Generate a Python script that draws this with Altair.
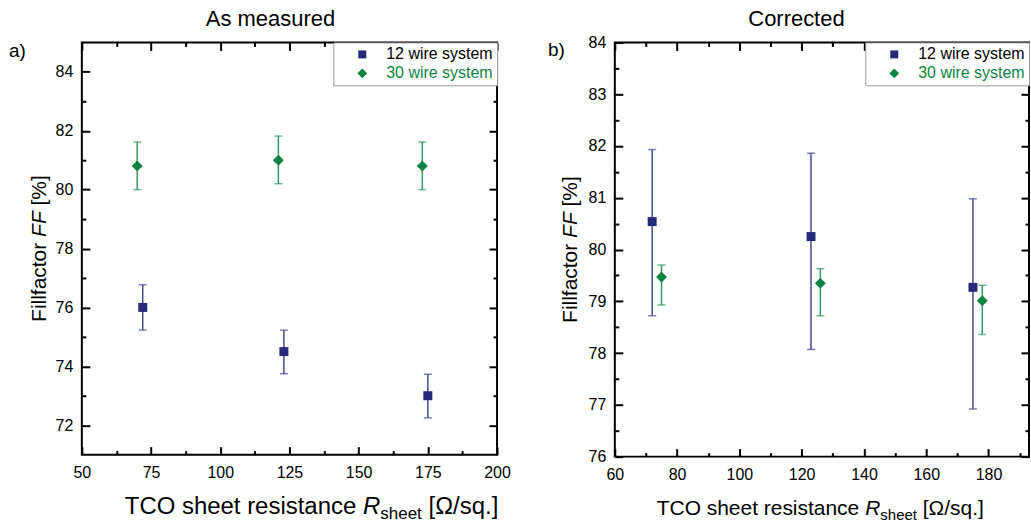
import altair as alt
import pandas as pd

FONT = "Liberation Sans"
NAVY = "#262a78"
GREEN = "#0b8442"
NAVY_BAR = "#474b8f"
GREEN_BAR = "#319b5e"
TICK = "black"
DIAMOND = "M-1.22,0L0,-1.22L1.22,0L0,1.22Z"

SERIES = ["12 wire system", "30 wire system"]

# ---- panel a) As measured ----
A_R12 = [72, 123, 175]
A_FF12 = [76.0, 74.5, 73.0]
A_LO12 = [75.23, 73.75, 72.25]
A_HI12 = [76.77, 75.23, 73.73]
A_R30 = [70, 121, 173]
A_FF30 = [80.8, 81.0, 80.8]
A_LO30 = [80.0, 80.2, 80.0]
A_HI30 = [81.62, 81.82, 81.62]

# ---- panel b) Corrected ----
B_R12 = [72, 123, 175]
B_FF12 = [80.54, 80.25, 79.27]
B_LO12 = [78.72, 78.07, 76.92]
B_HI12 = [81.93, 81.86, 80.98]
B_R30 = [75, 126, 178]
B_FF30 = [79.47, 79.35, 79.01]
B_LO30 = [78.93, 78.72, 78.36]
B_HI30 = [79.70, 79.63, 79.31]

# ---- ticks ----
A_XMAJ = [50, 75, 100, 125, 150, 175, 200]
A_XMIN = [62.5, 87.5, 112.5, 137.5, 162.5, 187.5]
A_YMAJ = [72, 74, 76, 78, 80, 82, 84]
A_YMIN = [73, 75, 77, 79, 81, 83]
B_XMAJ = [60, 80, 100, 120, 140, 160, 180]
B_XMIN = [70, 90, 110, 130, 150, 170, 190]
B_YMAJ = [76, 77, 78, 79, 80, 81, 82, 83, 84]
B_YMIN = [76.5, 77.5, 78.5, 79.5, 80.5, 81.5, 82.5, 83.5]

# approximate Arial advance widths (per 1000 em) for layout of rich titles
CW = {"T": 611, "C": 722, "O": 778, " ": 278, "s": 500, "h": 556, "e": 556,
      "t": 278, "r": 333, "i": 222, "a": 556, "n": 556, "c": 500, "R": 722,
      "[": 278, "Ω": 768, "/": 278, "q": 556, ".": 278, "]": 278, "F": 611,
      "l": 222, "f": 278, "o": 556, "%": 889}


def tw(s, size):
    return sum(CW.get(c, 556) for c in s) * size / 1000.0


ONE = pd.DataFrame({"k": [0]})


def txt(text, x, y, size, align="left", angle=0, style="normal"):
    return alt.Chart(ONE).mark_text(
        text=text, font=FONT, fontSize=size, color="black", align=align,
        baseline="alphabetic", angle=angle, fontStyle=style,
    ).encode(x=alt.value(x), y=alt.value(y))


def xtitle(x0, y, size, sub):
    p1 = "TCO sheet resistance"
    sp = tw(" ", size)
    xr = x0 + tw(p1, size) + sp
    xs = xr + tw("R", size)
    xb = xs + tw("sheet", sub) + sp
    return [
        txt(p1, x0, y, size),
        txt("R", xr, y, size, style="italic"),
        txt("sheet", xs, y + 5, sub),
        txt("[Ω/sq.]", xb, y, size),
    ]


def ytitle(x, ymid, size):
    sp = tw(" ", size)
    total = tw("Fillfactor", size) + sp + tw("FF", size) + sp + tw("[%]", size)
    yb = ymid + total / 2
    y1 = yb - tw("Fillfactor", size) - sp
    y2 = y1 - tw("FF", size) - sp
    return [
        txt("Fillfactor", x, yb, size, angle=270),
        txt("FF", x, y1, size, angle=270, style="italic"),
        txt("[%]", x, y2, size, angle=270),
    ]


def make_df(r12, ff12, lo12, hi12, r30, ff30, lo30, hi30):
    return pd.DataFrame({
        "series": [SERIES[0]] * len(r12) + [SERIES[1]] * len(r30),
        "x": r12 + r30,
        "y": ff12 + ff30,
        "lo": lo12 + lo30,
        "hi": hi12 + hi30,
    })


def legend():
    return alt.Legend(
        title=None, orient="top-right", offset=0, padding=4,
        fillColor="white", strokeColor="#9a9a9a",
        symbolOffset=17, labelOffset=16, labelFont=FONT, labelFontSize=16,
        labelColor=alt.ExprRef("datum.value == '30 wire system' ? '%s' : 'black'" % GREEN),
        symbolSize=64, rowPadding=3, symbolStrokeWidth=0,
    )


def panel(df, xdom, ydom, xmaj, xmin, ymaj, ymin, w, h, texts):
    xs = alt.Scale(domain=xdom, nice=False, zero=False)
    ys = alt.Scale(domain=ydom, nice=False, zero=False)
    base = alt.Chart(df)

    def axes_layer(xaxis, yaxis):
        return base.mark_point(opacity=0).encode(
            x=alt.X("x:Q", scale=xs, axis=xaxis),
            y=alt.Y("y:Q", scale=ys, axis=yaxis),
        )

    lab = dict(labelFont=FONT, labelFontSize=16, labelColor="black",
               labelFlush=False, labelOverlap=False, ticks=False,
               domain=False, grid=False, title=None, format="d")

    def tick_axis(orient, vals, size):
        return alt.Axis(orient=orient, values=vals, offset=-size, tickSize=size,
                        tickWidth=2, tickColor=TICK, labels=False,
                        domain=False, grid=False, title=None)

    layers = [
        axes_layer(alt.Axis(orient="bottom", values=xmaj, labelPadding=10, **lab),
                   alt.Axis(orient="left", values=ymaj, labelPadding=9, **lab)),
        axes_layer(tick_axis("bottom", xmaj, 8), tick_axis("left", ymaj, 8)),
        axes_layer(tick_axis("bottom", xmin, 4), tick_axis("left", ymin, 4)),
        axes_layer(tick_axis("top", xmaj, 8), tick_axis("right", ymaj, 8)),
        axes_layer(tick_axis("top", xmin, 4), tick_axis("right", ymin, 4)),
    ]
    for s, col in [(SERIES[0], NAVY_BAR), (SERIES[1], GREEN_BAR)]:
        layers.append(
            base.transform_filter(alt.datum.series == s)
            .mark_errorbar(ticks=True, size=8, thickness=1.5, color=col)
            .encode(
                x=alt.X("x:Q", scale=xs, axis=None),
                y=alt.Y("lo:Q", scale=ys, axis=None),
                y2="hi:Q",
            )
        )
    layers.append(
        base.mark_point(filled=True, size=81, opacity=1, strokeWidth=0).encode(
            x=alt.X("x:Q", scale=xs, axis=None),
            y=alt.Y("y:Q", scale=ys, axis=None),
            color=alt.Color("series:N", scale=alt.Scale(domain=SERIES, range=[NAVY, GREEN]),
                            legend=legend()),
            shape=alt.Shape("series:N", scale=alt.Scale(domain=SERIES, range=["square", DIAMOND]),
                            legend=legend()),
        )
    )
    return (
        alt.layer(*layers, *texts)
        .resolve_axis(x="independent", y="independent")
        .properties(width=w, height=h)
    )


df_a = make_df(A_R12, A_FF12, A_LO12, A_HI12, A_R30, A_FF30, A_LO30, A_HI30)
df_b = make_df(B_R12, B_FF12, B_LO12, B_HI12, B_R30, B_FF30, B_LO30, B_HI30)

texts_a = [
    txt("As measured", 189, -16, 22, align="center"),
    txt("a)", -73, 15, 19),
    *ytitle(-36, 206.5, 21),
    *xtitle(43, 472, 24, 17),
]
texts_b = [
    txt("Corrected", 182, -16, 22, align="center"),
    txt("b)", -67, 14, 19),
    *ytitle(-38, 207.5, 21),
    *xtitle(42, 473, 21, 15),
]

pa = panel(df_a, [50, 200], [71, 85], A_XMAJ, A_XMIN, A_YMAJ, A_YMIN, 416, 413, texts_a)
pb = panel(df_b, [60, 193], [76, 84], B_XMAJ, B_XMIN, B_YMAJ, B_YMIN, 415, 415, texts_b)

chart = (
    alt.hconcat(pa, pb, spacing=118, bounds="flush")
    .resolve_scale(color="independent", shape="independent")
    .properties(padding={"left": 8, "top": 7, "right": 0, "bottom": 2})
    .configure(font=FONT)
    .configure_view(stroke="black", strokeWidth=2)
)

chart.save("out.html", embed_options={"renderer": "svg", "actions": False})
